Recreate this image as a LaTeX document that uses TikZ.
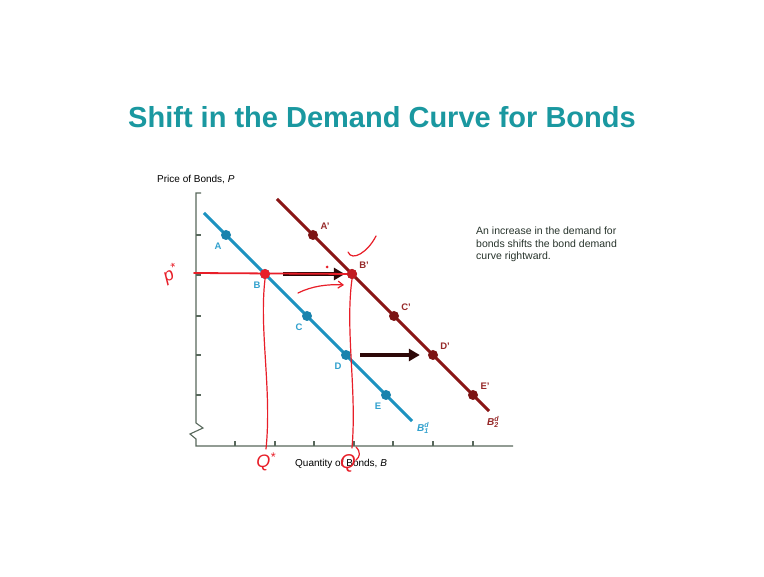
\documentclass[tikz,border=0pt]{standalone}
\usepackage{fontspec}
\setmainfont{Liberation Sans}
\usepackage{xcolor}
\usetikzlibrary{arrows.meta, positioning, shapes.geometric, calc}

\definecolor{titleteal}{RGB}{26,152,160}
\definecolor{dblue}{RGB}{28,146,192}
\definecolor{lblue}{RGB}{48,160,205}
\definecolor{dmaroon}{RGB}{138,22,22}
\definecolor{lmaroon}{RGB}{150,40,40}
\definecolor{axisgray}{RGB}{88,104,92}
\definecolor{inkred}{RGB}{232,30,40}
\definecolor{notetext}{RGB}{40,52,44}
\definecolor{arrowdark}{RGB}{45,8,8}

\begin{document}
\begin{tikzpicture}[x=1pt, y=-1pt,
    axis/.style={draw=axisgray, line width=1.1pt},
    curve/.style={line width=3pt},
    bdot/.style={circle, fill=dblue!90!black, inner sep=0pt, minimum size=10pt},
    mdot/.style={circle, fill=dmaroon!90!black, inner sep=0pt, minimum size=10pt},
    blbl/.style={text=lblue, font=\fontsize{9.5}{10}\selectfont\bfseries, inner sep=0pt},
    mlbl/.style={text=lmaroon, font=\fontsize{9.5}{10}\selectfont\bfseries, inner sep=0pt},
    shiftarrow/.style={-{Triangle[length=11pt,width=12pt]}, line width=4.5pt, arrowdark},
    ink/.style={draw=inkred, line width=1.2pt, line cap=round, line join=round}
]
\useasboundingbox[fill=white] (0,0) rectangle (764,577);

% title
\node[text=titleteal, font=\fontsize{29}{34}\selectfont\bfseries] (title) at (382,117) {Shift in the Demand Curve for Bonds};

% axes
\coordinate (ytop) at (196,193);
\coordinate (origin) at (196,446);
\coordinate (xend) at (513,446);
\draw[axis] ($(ytop)+(5,0)$) -- (ytop) -- (196,423) -- (203,428) -- (190,434) -- (196,439) -- (origin) -- (xend);
\foreach \y in {235,275,316,355,395}
  \draw[axis] (196,\y) -- ++(5,0);
\foreach \x in {235,275,314,354,393,433,473}
  \draw[axis] (\x,446) -- ++(0,-5);
\node[anchor=base west, inner sep=0pt, font=\fontsize{10}{12}\selectfont] (plabel) at (157,183) {Price of Bonds, \textit{P}};
\node[anchor=base west, inner sep=0pt, font=\fontsize{10}{12}\selectfont] (qlabel) at (295,467) {Quantity of Bonds, \textit{B}};

% demand curves
\coordinate (b1top) at (204,213);
\coordinate (b1end) at (412,421);
\coordinate (b2top) at (277,199);
\coordinate (b2end) at (489,411);
\draw[curve, dblue] (b1top) -- (b1end);
\draw[curve, dmaroon] (b2top) -- (b2end);

\foreach \n/\y in {A/235,B/274,C/316,D/355,E/395}{
  \node[bdot] (\n1) at ({\y-9},\y) {};
  \node[mdot] (\n2) at ({\y+78},\y) {};
  \node[blbl] (\n1l) at ($(\n1)+(-8,11)$) {\n};
  \node[mlbl] (\n2l) at ($(\n2)+(12,-9)$) {\n’};
}
\node[blbl, font=\fontsize{10}{10}\selectfont\bfseries\itshape] (d1l) at (423,428) {B\rlap{\textsuperscript{\textit{d}}}\textsubscript{1}};
\node[mlbl, font=\fontsize{10}{10}\selectfont\bfseries\itshape] (d2l) at (493,422) {B\rlap{\textsuperscript{\textit{d}}}\textsubscript{2}};

% shift arrows
\draw[shiftarrow, shorten <=13pt, shorten >=2pt] (B1) -- (B2);
\draw[shiftarrow, shorten <=9pt, shorten >=8pt] (D1) -- (D2);

\node[anchor=north west, align=left, inner sep=0pt, text=notetext,
      font=\fontsize{10.5}{12.5}\selectfont] (note) at (476,227) {An increase in the demand for\\bonds shifts the bond demand\\curve rightward.};

% hand annotations
\coordinate (pax) at (194,273);
\coordinate (q1) at (266,449);
\coordinate (q2) at (352,448);
\fill[inkred] (B1) circle (5);
\fill[inkred!60!dmaroon] (B2) circle (5);
\draw[ink, line width=1.8pt] (pax) -- (B2);
\draw[ink] (B1.south) .. controls (259,330) and (272,390) .. (q1);
\draw[ink] (B2.south) .. controls (345,330) and (357,390) .. (q2);
\coordinate (ra1) at (298,293);
\coordinate (ra2) at (344,285);
\draw[ink, -{Straight Barb[length=5pt,width=7pt]}] (ra1) .. controls (312,286) and (328,284) .. (ra2);
\coordinate (tk1) at (348,252);
\coordinate (tk2) at (376,236);
\draw[ink] (tk1) .. controls (352,262) and (368,252) .. (tk2);
\fill[inkred] (327,267) circle (1.5);
\node[text=inkred, rotate=25, font=\fontsize{18}{18}\selectfont\itshape] (pstar) at (171,274) {p\textsuperscript{*}};
\node[text=inkred, font=\fontsize{18}{18}\selectfont\itshape] (qstar) at (266,462) {Q\textsuperscript{*}};
\node[text=inkred, font=\fontsize{20}{20}\selectfont\itshape] (qnew) at (348,463) {Q};
\draw[ink] (356,447) .. controls (361,452) and (360,457) .. (356,460);
\end{tikzpicture}
\end{document}
